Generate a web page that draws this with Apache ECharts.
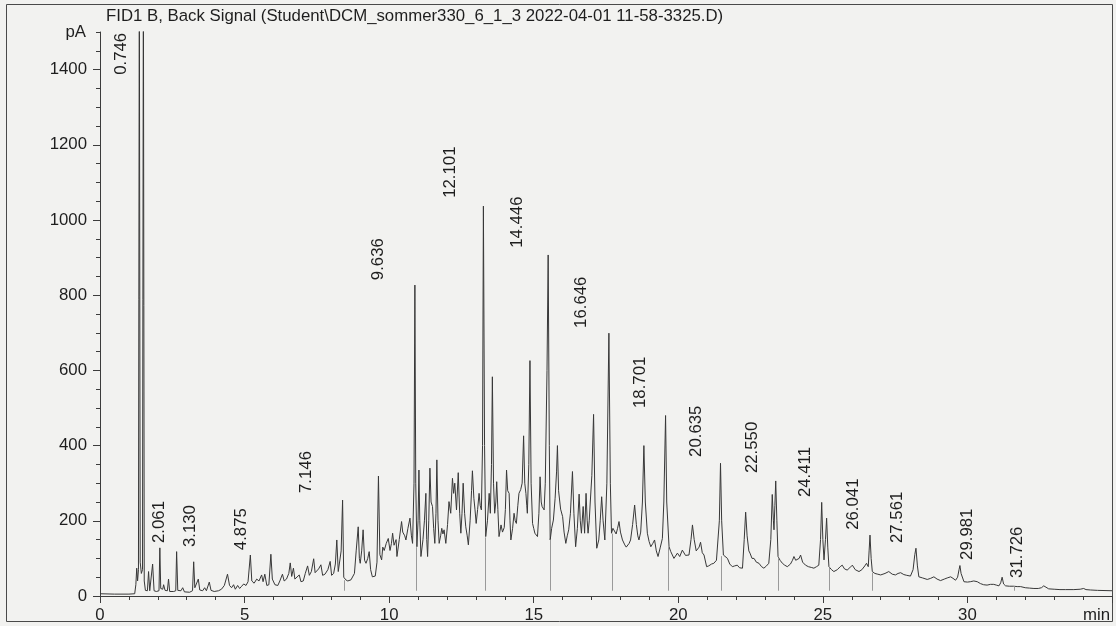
<!DOCTYPE html>
<html>
<head>
<meta charset="utf-8">
<script src="https://cdn.jsdelivr.net/npm/echarts@6/dist/echarts.min.js"></script>
<style>
html,body{margin:0;padding:0;background:#f2f2f0;}
#chart{width:1116px;height:626px;}
</style>
</head>
<body>
<div id="chart"></div>
<script>
// ---- data ----
const titleText = 'FID1 B, Back Signal (Student\\DCM_sommer330_6_1_3 2022-04-01 11-58-3325.D)';
const yTickLabels = [0, 200, 400, 600, 800, 1000, 1200, 1400];

// chromatogram trace: [retention time (min), signal (pA)]
const trace = [
[0,6],[0.5,5],[1.0,5],[1.2,6],[1.24,30],[1.27,74],[1.3,40],[1.33,70],[1.36,1700],[1.39,90],[1.43,60],[1.47,70],[1.5,1700],[1.53,40],[1.57,15],[1.64,14],[1.68,65],[1.72,14],[1.78,14],[1.82,85],[1.87,14],[1.95,12],[2.04,14],[2.07,128],[2.1,20],[2.17,18],[2.2,30],[2.25,15],[2.33,14],[2.37,45],[2.41,12],[2.55,12],[2.62,14],[2.65,118],[2.69,15],[2.8,14],[2.86,22],[2.92,11],[3.1,10],[3.2,14],[3.24,91],[3.28,22],[3.34,18],[3.4,45],[3.45,16],[3.55,14],[3.62,22],[3.68,14],[3.78,37],[3.84,15],[3.95,12],[4.1,14],[4.2,18],[4.3,28],[4.41,58],[4.48,28],[4.55,22],[4.62,30],[4.68,18],[4.76,28],[4.83,20],[4.9,26],[4.97,32],[5.05,28],[5.12,38],[5.2,109],[5.25,40],[5.33,34],[5.42,45],[5.5,40],[5.59,56],[5.64,38],[5.7,58],[5.77,28],[5.84,30],[5.91,111],[5.96,45],[6.05,30],[6.15,28],[6.22,40],[6.31,58],[6.37,40],[6.45,45],[6.53,60],[6.58,88],[6.63,52],[6.69,74],[6.74,45],[6.8,42],[6.89,56],[6.95,38],[7.03,40],[7.1,60],[7.18,80],[7.24,55],[7.31,65],[7.39,99],[7.44,62],[7.5,60],[7.56,72],[7.64,83],[7.7,55],[7.78,58],[7.88,70],[7.96,92],[8.01,55],[8.08,60],[8.14,85],[8.19,149],[8.24,65],[8.3,70],[8.34,120],[8.39,255],[8.43,50],[8.5,43],[8.57,40],[8.62,45],[8.68,43],
[8.8,60],[8.86,120],[8.93,184],[8.97,100],[9.0,87],[9.05,120],[9.1,176],[9.15,95],[9.2,87],[9.26,100],[9.31,118],[9.36,70],[9.42,51],[9.47,55],[9.52,53],[9.58,90],[9.63,319],[9.68,110],[9.74,96],[9.78,130],[9.83,121],[9.9,140],[9.97,153],[10.03,121],[10.08,140],[10.12,167],[10.17,135],[10.2,131],[10.24,150],[10.27,105],[10.35,150],[10.43,198],[10.47,170],[10.5,167],[10.54,160],[10.58,149],[10.65,180],[10.72,207],[10.77,160],[10.81,140],[10.86,300],[10.89,827],[10.92,300],[10.96,131],[11.0,200],[11.03,335],[11.06,200],[11.1,105],[11.17,150],[11.22,200],[11.27,273],[11.3,150],[11.33,105],[11.37,200],[11.41,340],[11.45,250],[11.5,238],[11.54,180],[11.58,140],[11.62,220],[11.65,362],[11.69,200],[11.73,140],[11.78,160],[11.82,180],[11.86,165],[11.9,176],[11.96,140],[12.02,190],[12.07,251],[12.13,220],[12.19,313],[12.23,273],[12.27,300],[12.33,229],[12.39,328],[12.44,220],[12.48,167],[12.52,220],[12.56,300],[12.61,220],[12.65,184],[12.7,160],[12.74,136],[12.8,200],[12.85,280],[12.88,333],[12.93,260],[12.97,229],[13.01,193],[13.06,230],[13.11,273],[13.15,240],[13.19,229],[13.23,400],[13.26,1037],[13.3,400],[13.34,158],[13.4,200],[13.46,273],[13.5,220],[13.54,350],[13.57,583],[13.61,300],[13.65,220],[13.69,250],[13.72,304],[13.76,230],[13.8,158],[13.87,189],[13.92,170],[13.98,182],[14.02,230],[14.06,335],[14.1,280],[14.15,273],[14.18,200],[14.21,149],[14.27,180],[14.32,220],[14.36,200],[14.4,193],[14.45,240],[14.49,273],[14.55,283],[14.6,300],[14.65,426],[14.69,300],[14.73,273],[14.76,240],[14.78,220],[14.83,350],[14.87,626],[14.91,300],[14.96,193],[15.0,180],[15.04,167],[15.09,170],[15.13,158],[15.18,220],[15.22,317],[15.26,250],[15.29,238],[15.33,235],[15.36,229],[15.4,300],[15.46,600],[15.5,907],[15.54,400],[15.57,149],[15.62,180],[15.68,202],[15.74,260],[15.79,330],[15.82,400],[15.86,280],[15.93,231],[16.0,211],[16.05,170],[16.11,140],[16.16,160],[16.21,176],[16.27,220],[16.34,331],[16.39,220],[16.45,131],[16.51,180],[16.57,271],[16.61,200],[16.65,167],[16.71,238],[16.76,167],[16.81,273],[16.85,200],[16.88,167],[16.92,200],[16.95,242],[17.01,320],[17.07,483],[17.12,250],[17.18,127],[17.25,149],[17.3,200],[17.35,264],[17.4,200],[17.46,149],[17.53,300],[17.6,699],[17.65,300],[17.69,167],[17.74,180],[17.78,176],[17.85,165],[17.9,180],[17.95,198],[18.0,170],[18.07,149],[18.15,136],[18.2,130],[18.24,127],[18.3,140],[18.35,149],[18.42,190],[18.49,242],[18.55,190],[18.6,160],[18.64,149],[18.7,170],[18.76,250],[18.81,400],[18.86,250],[18.93,167],[18.99,145],[19.05,131],[19.12,140],[19.18,149],[19.24,120],[19.3,105],[19.38,130],[19.45,153],[19.5,250],[19.56,480],[19.6,250],[19.68,131],[19.74,118],[19.85,100],
[19.97,114],[20.05,105],[20.14,122],[20.25,108],[20.37,109],[20.44,150],[20.49,189],[20.55,150],[20.62,120],[20.66,122],[20.72,130],[20.77,143],[20.83,115],[20.89,109],[20.98,78],[21.05,80],[21.15,85],[21.23,87],[21.32,95],[21.36,92],[21.42,200],[21.46,353],[21.5,200],[21.56,109],[21.62,105],[21.7,100],[21.78,85],[21.87,78],[21.95,80],[22.04,82],[22.12,75],[22.22,74],[22.28,150],[22.33,223],[22.38,160],[22.44,120],[22.48,114],[22.55,100],[22.62,100],[22.7,90],[22.79,87],[22.88,78],[22.96,74],[23.05,80],[23.13,87],[23.2,150],[23.25,270],[23.29,200],[23.31,176],[23.34,240],[23.37,306],[23.41,200],[23.45,105],[23.52,95],[23.6,87],[23.68,82],[23.77,78],[23.88,85],[23.95,95],[24.0,105],[24.06,95],[24.12,96],[24.18,100],[24.23,109],[24.3,90],[24.4,82],[24.5,78],[24.6,76],[24.69,74],[24.78,78],[24.86,82],[24.92,150],[24.96,249],[25.0,150],[25.04,96],[25.09,150],[25.13,207],[25.17,130],[25.21,78],[25.3,70],[25.38,65],[25.5,70],[25.6,78],[25.67,82],[25.75,72],[25.84,69],[25.93,75],[26.02,82],[26.12,70],[26.25,65],[26.35,70],[26.45,80],[26.51,87],[26.57,78],[26.6,120],[26.63,162],[26.67,100],[26.71,65],[26.8,60],[26.9,58],[27.0,56],[27.15,60],[27.28,65],[27.4,58],[27.51,56],[27.6,60],[27.69,62],[27.8,57],[27.9,55],[28.03,53],[28.12,70],[28.18,110],[28.22,127],[28.27,80],[28.32,51],[28.45,48],[28.61,44],[28.73,47],[28.84,51],[28.95,45],[29.07,41],[29.2,45],[29.3,48],[29.42,51],[29.5,47],[29.59,42],[29.66,50],[29.71,70],[29.74,81],[29.78,60],[29.88,38],[30.0,37],[30.1,38],[30.22,40],[30.34,38],[30.45,33],[30.56,30],[30.68,29],[30.8,31],[30.91,31],[31.0,29],[31.09,27],[31.15,35],[31.2,50],[31.25,32],[31.32,27],[31.45,26],[31.6,26],[31.72,25],[31.84,25],[32.0,22],[32.15,21],[32.3,20],[32.45,20],[32.56,22],[32.64,27],[32.7,22],[32.81,19],[33.0,18],[33.2,17],[33.4,17],[33.68,17],[33.9,18],[34.02,20],[34.1,17],[34.25,16],[34.5,15],[35,14]
];

// retention-time labels printed on the chart and the signal level at their base
const peakLabels = ['0.746','2.061','3.130','4.875','7.146','9.636','12.101','14.446','16.646','18.701','20.635','22.550','24.411','26.041','27.561','29.981','31.726'];
const peakLabelBase = [1386, 141, 130, 122, 274, 840, 1059, 926, 713, 500, 370, 327, 263, 176, 141, 96, 48];

// integration drop lines: time and trace level at the top of each line
const dropTimes = [8.45, 10.94, 13.34, 15.58, 17.7, 19.65, 21.5, 23.44, 25.22, 26.72, 31.63];
const dropTops  = [42, 130, 156, 150, 166, 130, 106, 102, 76, 62, 26];
const dropBottom = 14;

// ---- chart ----
const FONT = 'Liberation Sans, Arial, sans-serif';
const FS = 16.8;
const TXT = '#1e1e1e';
const AX = '#3c3c3c';

const chart = echarts.init(document.getElementById('chart'), null, {renderer: 'canvas'});
chart.setOption({
  backgroundColor: '#f2f2f0',
  animation: false,
  title: {
    text: titleText,
    left: 106, top: 8, padding: 0,
    textStyle: {fontFamily: FONT, fontSize: FS, fontWeight: 'normal', color: TXT}
  },
  graphic: [{
    type: 'rect', silent: true,
    shape: {x: 6.5, y: 4.5, width: 1106, height: 617},
    style: {fill: 'none', stroke: '#4a4a4a', lineWidth: 1}
  }],
  grid: {left: 100, right: 4, top: 32, bottom: 30, containLabel: false},
  xAxis: {
    type: 'value', min: 0, max: 35, interval: 5,
    name: 'min', nameLocation: 'end', nameGap: 0,
    nameTextStyle: {fontFamily: FONT, fontSize: FS, color: TXT, align: 'right', verticalAlign: 'top', padding: [11, 2, 0, 0]},
    axisLine: {show: true, onZero: false, lineStyle: {color: AX, width: 1}},
    axisTick: {show: true, length: 7, lineStyle: {color: AX}},
    minorTick: {show: true, splitNumber: 5, length: 4, lineStyle: {color: AX}},
    axisLabel: {fontFamily: FONT, fontSize: FS, color: TXT, margin: 11, showMaxLabel: false, formatter: v => String(v)},
    splitLine: {show: false}, minorSplitLine: {show: false}
  },
  yAxis: [{
    type: 'value', min: 0, max: 1500, interval: 50, position: 'left',
    name: 'pA', nameLocation: 'end', nameGap: 0,
    nameTextStyle: {fontFamily: FONT, fontSize: FS, color: TXT, align: 'right', verticalAlign: 'middle', padding: [2, 14, 0, 0]},
    axisLine: {show: true, lineStyle: {color: AX, width: 1}},
    axisTick: {show: true, length: 4, lineStyle: {color: AX}},
    axisLabel: {fontFamily: FONT, fontSize: FS, color: TXT, margin: 13, customValues: yTickLabels, formatter: v => String(v)},
    splitLine: {show: false}
  }, {
    type: 'value', min: 0, max: 1500, interval: 200, position: 'left',
    axisLine: {show: false},
    axisTick: {show: true, length: 7, lineStyle: {color: AX}, customValues: yTickLabels},
    axisLabel: {show: false},
    splitLine: {show: false}
  }],
  series: [{
    type: 'line',
    data: trace,
    showSymbol: false,
    symbol: 'none',
    clip: true,
    lineStyle: {color: '#383838', width: 1},
    markLine: {
      silent: true, symbol: 'none', animation: false,
      label: {show: false},
      lineStyle: {color: '#9a9a9a', width: 1, type: 'solid'},
      data: dropTimes.map((t, i) => [{coord: [t, dropTops[i]]}, {coord: [t, dropBottom]}])
    }
  }, {
    type: 'scatter',
    data: peakLabels.map((s, i) => [Number(s), peakLabelBase[i], s]),
    symbol: 'circle',
    symbolSize: 2,
    itemStyle: {color: 'rgba(0,0,0,0)'},
    label: {
      show: true, position: 'inside', rotate: 90, opacity: 1,
      align: 'left', verticalAlign: 'middle',
      fontFamily: FONT, fontSize: FS, color: TXT,
      formatter: p => p.data[2]
    },
    labelLayout: {hideOverlap: false},
    z: 5
  }]
});
</script>
</body>
</html>
